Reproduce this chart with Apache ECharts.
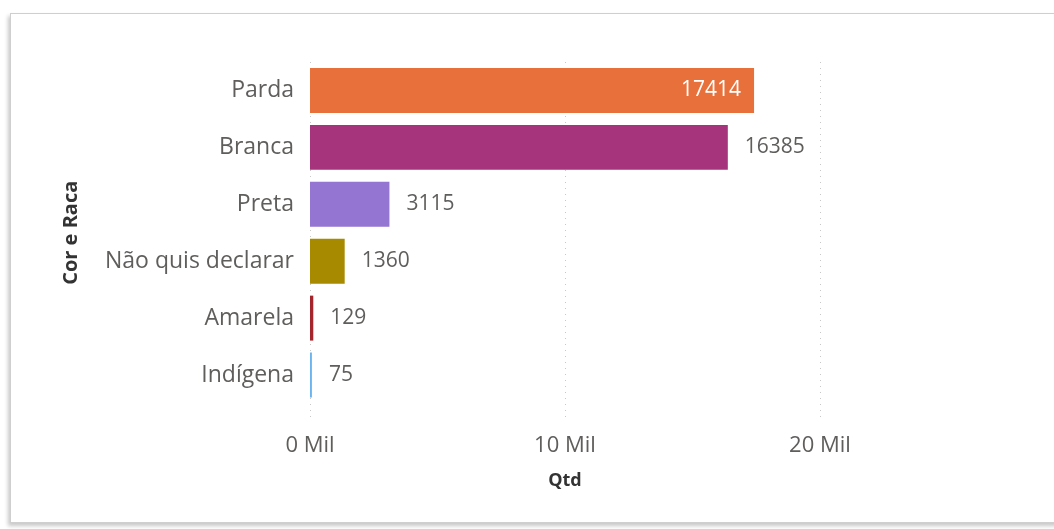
<!DOCTYPE html>
<html>
<head>
<meta charset="utf-8">
<script src="https://cdn.jsdelivr.net/npm/echarts@6/dist/echarts.min.js"></script>
<style>
  html, body { margin: 0; padding: 0; background: #fff; }
  #chart { position: absolute; left: 0; top: 0; width: 1054px; height: 529px; }
  #frame {
    position: absolute; left: 10px; top: 13px; width: 1100px; height: 508px;
    border: 1px solid #cfcfcf;
    box-shadow: -2px 3px 4px rgba(0,0,0,0.22);
    pointer-events: none;
  }
</style>
</head>
<body>
<div id="frame"></div>
<div id="chart"></div>
<script>
// Respondentes por cor e raça
const categories = ['Parda', 'Branca', 'Preta', 'Não quis declarar', 'Amarela', 'Indígena'];
const values = [17414, 16385, 3115, 1360, 129, 75];
const barColors = ['#E8703A', '#A6347D', '#9575D2', '#A88A00', '#A4262C', '#6CB4EE'];
const xTicks = [0, 10000, 20000];

const FONT = '"Open Sans", "Noto Sans", sans-serif';
const chart = echarts.init(document.getElementById('chart'), null, { renderer: 'canvas' });

const barData = values.map((v, i) => ({
  value: v,
  itemStyle: { color: barColors[i] },
  label: i === 0
    ? { position: 'insideRight', color: '#ffffff', distance: 13 }
    : { position: 'right', color: '#605e5c', distance: 17 }
}));

chart.setOption({
  animation: false,
  grid: [
    // bars
    { left: 310, width: 510, top: 62, height: 341.5, containLabel: false },
    // dotted gridlines and tick labels
    { left: 310, width: 510, top: 62, height: 360, containLabel: false }
  ],
  xAxis: [
    {
      gridIndex: 0, type: 'value', min: xTicks[0], max: xTicks[xTicks.length - 1], interval: 10000,
      axisLine: { show: false }, axisTick: { show: false }, axisLabel: { show: false },
      splitLine: { show: false }
    },
    {
      gridIndex: 1, type: 'value', min: xTicks[0], max: xTicks[xTicks.length - 1], interval: 10000,
      axisLine: { show: false }, axisTick: { show: false },
      splitLine: { show: true, lineStyle: { color: '#c8c8c8', type: [1, 5], width: 1 } },
      axisLabel: {
        color: '#605e5c', fontFamily: FONT, fontSize: 22, margin: 13,
        formatter: v => (v / 1000) + ' Mil'
      },
      name: 'Qtd', nameLocation: 'middle', nameGap: 50,
      nameTextStyle: { color: '#333333', fontFamily: FONT, fontSize: 18, fontWeight: 'bold' }
    }
  ],
  yAxis: [
    {
      gridIndex: 0, type: 'category', data: categories, inverse: true,
      axisLine: { show: false }, axisTick: { show: false },
      axisLabel: { color: '#605e5c', fontFamily: FONT, fontSize: 23, margin: 16, padding: [4, 0, 0, 0] },
      name: 'Cor e Raca', nameLocation: 'middle', nameGap: 229, nameRotate: 90,
      nameTextStyle: { color: '#333333', fontFamily: FONT, fontSize: 20, fontWeight: 'bold' }
    },
    {
      gridIndex: 1, type: 'value', show: false
    }
  ],
  series: [
    {
      type: 'bar', xAxisIndex: 0, yAxisIndex: 0,
      data: barData,
      barCategoryGap: '21%',
      label: { show: true, fontFamily: FONT, fontSize: 21 }
    }
  ]
});
</script>
</body>
</html>
